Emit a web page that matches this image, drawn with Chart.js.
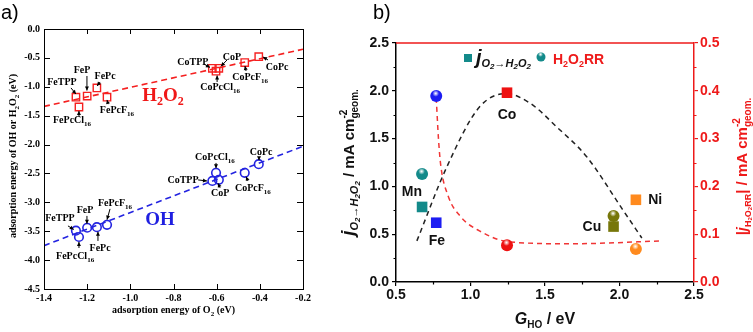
<!DOCTYPE html>
<html><head><meta charset="utf-8">
<script src="https://cdn.jsdelivr.net/npm/chart.js@4"></script>
<style>
html,body{margin:0;padding:0;background:#fff;width:753px;height:332px;overflow:hidden;}
#ca{position:absolute;left:0;top:0;}
#cb{position:absolute;left:330px;top:0;}
.lbl{position:absolute;font-family:"Liberation Sans",Arial,sans-serif;font-size:20px;color:#000;line-height:20px;}
</style></head><body>
<canvas id="ca" width="345" height="332"></canvas>
<canvas id="cb" width="423" height="332"></canvas>
<div class="lbl" style="left:1px;top:2px">a)</div>
<div class="lbl" style="left:373px;top:2px">b)</div>
<script>
// ---------- Panel a data ----------
const compounds = ['FeTPP','FePcCl16','FeP','FePc','FePcF16','CoTPP','CoP','CoPcCl16','CoPcF16','CoPc'];
const o2Energy  = [-1.252,-1.238,-1.200,-1.155,-1.108,-0.620,-0.590,-0.603,-0.470,-0.405];
const h2o2Energy= [-1.18,-1.35,-1.16,-1.02,-1.18,-0.68,-0.68,-0.73,-0.58,-0.48];
const ohEnergy  = [-3.49,-3.60,-3.44,-3.43,-3.39,-2.63,-2.61,-2.49,-2.49,-2.34];
const fitX      = [-1.4,-0.2];
const h2o2Fit   = [-1.34,-0.35];
const ohFit     = [-3.75,-2.03];
const aXTicks = {min:-1.4, max:-0.2, step:0.2};
const aYTicks = {min:-4.5, max:0, step:0.5};
// annotation: [name, subscript, labelX, labelY, arrowFromX, arrowFromY, arrowToX, arrowToY]
const h2o2Notes = [
 ['FeTPP','',-1.317,-0.917,-1.275,-1.02,-1.252,-1.125],
 ['FeP','',-1.224,-0.709,-1.201,-0.813,-1.201,-1.065],
 ['FePc','',-1.117,-0.813,-1.14,-0.917,-1.154,-0.986],
 ['FePcF','16',-1.062,-1.40,-1.103,-1.30,-1.108,-1.228],
 ['FePcCl','16',-1.27,-1.574,-1.238,-1.52,-1.238,-1.42],
 ['CoTPP','',-0.71,-0.554,-0.659,-0.606,-0.631,-0.665],
 ['CoP','',-0.529,-0.484,-0.552,-0.536,-0.58,-0.645],
 ['CoPcCl','16',-0.584,-1.003,-0.598,-0.917,-0.598,-0.805],
 ['CoPcF','16',-0.445,-0.83,-0.464,-0.727,-0.469,-0.64],
 ['CoPc','',-0.32,-0.657,-0.362,-0.536,-0.385,-0.484]
];
const ohNotes = [
 ['FeTPP','',-1.326,-3.27,-1.289,-3.408,-1.262,-3.47],
 ['FeP','',-1.21,-3.13,-1.201,-3.235,-1.201,-3.37],
 ['FePcF','16',-1.071,-3.01,-1.094,-3.114,-1.108,-3.30],
 ['FePc','',-1.14,-3.789,-1.15,-3.668,-1.15,-3.51],
 ['FePcCl','16',-1.256,-3.927,-1.238,-3.79,-1.238,-3.685],
 ['CoTPP','',-0.756,-2.612,-0.686,-2.612,-0.645,-2.63],
 ['CoP','',-0.584,-2.837,-0.584,-2.75,-0.594,-2.67],
 ['CoPcCl','16',-0.608,-2.215,-0.603,-2.318,-0.603,-2.41],
 ['CoPcF','16',-0.432,-2.75,-0.455,-2.63,-0.464,-2.555],
 ['CoPc','',-0.394,-2.128,-0.404,-2.215,-0.404,-2.27]
];
const bigLabels = [['H2O2',-0.849,-1.142,'#f01818'],['OH',-0.862,-3.287,'#1f1fe0']];

// ---------- Panel b data ----------
const metals   = ['Mn','Fe','Co','Cu','Ni'];
const gHO      = [0.675,0.77,1.245,1.96,2.11];
const jO2H2O2  = [0.785,0.62,1.98,0.58,0.86];
const jH2O2RR  = [0.226,0.389,0.077,0.138,0.069];
const metalColors = ['#138a8a','#1c1cf2','#ee1111','#77770a','#ff8a1e'];
const metalLabelX = [0.607,0.775,1.245,1.815,2.24];
const metalLabelY = [0.94,0.43,1.75,0.575,0.858];
const trendJX = [0.64,0.84,1.06,1.24,1.40,1.58,1.78,2.02,2.15];
const trendJY = [0.43,1.20,1.83,1.97,1.87,1.62,1.31,0.76,0.46];
const trendRRX = [0.77,0.785,0.80,0.85,0.93,1.06,1.26,1.67,2.29];
const trendRRY = [0.385,0.30,0.245,0.18,0.138,0.107,0.084,0.080,0.086];

const SERIF = '"Liberation Serif","Times New Roman",serif';
const SANS = '"Liberation Sans",Arial,sans-serif';

function richWidth(ctx, segs){let w=0;segs.forEach(s=>{ctx.font=s.f;if(!s.na)w+=ctx.measureText(s.t).width;});return w;}
function drawRich(ctx, segs, x, y){
  let cx=x-richWidth(ctx,segs)/2;
  segs.forEach(s=>{ctx.font=s.f;ctx.fillText(s.t,cx,y+(s.dy||0));if(!s.na)cx+=ctx.measureText(s.t).width;});
}
function arrow(ctx,x1,y1,x2,y2){
  ctx.beginPath();ctx.moveTo(x1,y1);ctx.lineTo(x2,y2);ctx.stroke();
  const a=Math.atan2(y2-y1,x2-x1),L=4,W=2;
  ctx.beginPath();ctx.moveTo(x2,y2);
  ctx.lineTo(x2-L*Math.cos(a)+W*Math.sin(a),y2-L*Math.sin(a)-W*Math.cos(a));
  ctx.lineTo(x2-L*Math.cos(a)-W*Math.sin(a),y2-L*Math.sin(a)+W*Math.cos(a));
  ctx.closePath();ctx.fill();
}

const plugA = {
  id:'plugA',
  afterDraw(chart){
    const {ctx, chartArea:a, scales:{x,y}} = chart;
    ctx.save();
    ctx.strokeStyle='#000';ctx.fillStyle='#000';ctx.lineWidth=1;
    ctx.strokeRect(a.left+0.5,a.top+0.5,a.right-a.left,a.bottom-a.top);
    ctx.beginPath();
    x.ticks.forEach(t=>{const p=Math.round(x.getPixelForValue(t.value))+0.5;ctx.moveTo(p,a.bottom);ctx.lineTo(p,a.bottom-5);ctx.moveTo(p,a.top);ctx.lineTo(p,a.top+5);});
    y.ticks.forEach(t=>{const p=Math.round(y.getPixelForValue(t.value))+0.5;ctx.moveTo(a.left,p);ctx.lineTo(a.left+6,p);ctx.moveTo(a.right,p);ctx.lineTo(a.right-6,p);});
    ctx.stroke();
    // annotations
    ctx.textBaseline='alphabetic';
    [...h2o2Notes,...ohNotes].forEach(n=>{
      const lx=x.getPixelForValue(n[2]),ly=y.getPixelForValue(n[3]);
      const segs=[{t:n[0],f:'bold 10px '+SERIF}];
      if(n[1])segs.push({t:n[1],f:'bold 7px '+SERIF,dy:3});
      drawRich(ctx,segs,lx,ly+3.5);
      arrow(ctx,x.getPixelForValue(n[4]),y.getPixelForValue(n[5]),x.getPixelForValue(n[6]),y.getPixelForValue(n[7]));
    });
    bigLabels.forEach(b=>{
      ctx.fillStyle=b[3];
      const px=x.getPixelForValue(b[1]),py=y.getPixelForValue(b[2]);
      let segs;
      if(b[0]==='H2O2')segs=[{t:'H',f:'bold 19px '+SERIF},{t:'2',f:'bold 12px '+SERIF,dy:4},{t:'O',f:'bold 19px '+SERIF},{t:'2',f:'bold 12px '+SERIF,dy:4}];
      else segs=[{t:b[0],f:'bold 19px '+SERIF}];
      drawRich(ctx,segs,px,py+6.5);
    });
    // axis titles
    ctx.fillStyle='#000';
    drawRich(ctx,[{t:'adsorption energy of O',f:'bold 10px '+SERIF},{t:'2',f:'bold 7px '+SERIF,dy:3},{t:' (eV)',f:'bold 10px '+SERIF}],(a.left+a.right)/2,313);
    ctx.translate(12,(a.top+a.bottom)/2-3);ctx.rotate(-Math.PI/2);
    drawRich(ctx,[{t:'adsorption energy of OH or H',f:'bold 10px '+SERIF},{t:'2',f:'bold 7px '+SERIF,dy:3},{t:'O',f:'bold 10px '+SERIF},{t:'2',f:'bold 7px '+SERIF,dy:3},{t:' (eV)',f:'bold 10px '+SERIF}],0,3.5);
    ctx.restore();
  }
};

const aRed='#f52020', aBlue='#2424e0';
new Chart(document.getElementById('ca'),{
  type:'scatter',
  data:{datasets:[
    {label:'H2O2',data:o2Energy.map((v,i)=>({x:v,y:h2o2Energy[i]})),pointStyle:'rect',pointRadius:5.2,pointBorderColor:aRed,pointBackgroundColor:'rgba(0,0,0,0)',pointBorderWidth:1.4,order:0},
    {label:'OH',data:o2Energy.map((v,i)=>({x:v,y:ohEnergy[i]})),pointStyle:'circle',pointRadius:4.3,pointBorderColor:aBlue,pointBackgroundColor:'rgba(0,0,0,0)',pointBorderWidth:1.6,order:0},
    {label:'H2O2 fit',data:fitX.map((v,i)=>({x:v,y:h2o2Fit[i]})),showLine:true,pointRadius:0,borderColor:aRed,borderDash:[6,4],borderWidth:1.6,order:1},
    {label:'OH fit',data:fitX.map((v,i)=>({x:v,y:ohFit[i]})),showLine:true,pointRadius:0,borderColor:aBlue,borderDash:[6,4],borderWidth:1.6,order:1}
  ]},
  options:{
    responsive:false,animation:false,
    layout:{padding:{top:29,right:42,left:0,bottom:0}},
    plugins:{legend:{display:false},tooltip:{enabled:false}},
    scales:{
      x:{type:'linear',min:aXTicks.min,max:aXTicks.max,
        ticks:{stepSize:aXTicks.step,callback:v=>v.toFixed(1),font:{family:SERIF,weight:'bold',size:10},color:'#000',padding:3,maxRotation:0,autoSkip:false},
        grid:{display:false,drawTicks:false},border:{display:false},afterFit(s){s.height=43;}},
      y:{type:'linear',min:aYTicks.min,max:aYTicks.max,
        ticks:{stepSize:aYTicks.step,callback:v=>v.toFixed(1),font:{family:SERIF,weight:'bold',size:10},color:'#000',padding:4,autoSkip:false},
        grid:{display:false,drawTicks:false},border:{display:false},afterFit(s){s.width=44;}}
    }
  },
  plugins:[plugA]
});

// ---------- Panel b ----------
const OX=330; // canvas offset
const bRed='#ee1a1a';
function sphere(ctx,x,y,r,col){
  ctx.beginPath();ctx.arc(x,y,r,0,Math.PI*2);ctx.fillStyle=col;ctx.fill();
  const g=ctx.createRadialGradient(x-0.5,y-2.6,0.3,x-0.5,y-2.6,r*0.55);
  g.addColorStop(0,'rgba(255,255,255,0.95)');g.addColorStop(1,'rgba(255,255,255,0)');
  ctx.beginPath();ctx.arc(x,y,r,0,Math.PI*2);ctx.fillStyle=g;ctx.fill();
}
function minor(ctx,scale,step,len,vertical,side){
  const n=Math.round((scale.max-scale.min)/step);
  ctx.beginPath();
  for(let i=1;i<n;i+=2){
    const v=scale.min+i*step,p=Math.round(scale.getPixelForValue(v))+0.5;
    if(vertical){ctx.moveTo(side,p);ctx.lineTo(side+len,p);}else{ctx.moveTo(p,side);ctx.lineTo(p,side+len);}
  }
  ctx.stroke();
}
const plugB={
  id:'plugB',
  afterDatasetsDraw(chart){
    const ctx=chart.ctx;ctx.save();
    const meta=chart.getDatasetMeta(1);
    meta.data.forEach((el,i)=>sphere(ctx,el.x,el.y,6,metalColors[i]));
    ctx.restore();
  },
  afterDraw(chart){
    const {ctx,chartArea:a,scales:{x,y,y1}}=chart;
    ctx.save();
    ctx.lineWidth=1.5;
    ctx.strokeStyle=bRed;ctx.beginPath();ctx.moveTo(a.left,a.top);ctx.lineTo(a.right,a.top);ctx.stroke();
    ctx.lineWidth=1.2;
    ctx.strokeStyle='#000';
    minor(ctx,y,0.25,-2.5,true,a.left);
    minor(ctx,x,0.25,2.5,false,a.bottom);
    ctx.strokeStyle=bRed;
    minor(ctx,y1,0.05,2.5,true,a.right);
    // metal labels
    ctx.fillStyle='#111';ctx.textAlign='center';ctx.textBaseline='middle';
    ctx.font='bold 14px '+SANS;
    metals.forEach((m,i)=>ctx.fillText(m,x.getPixelForValue(metalLabelX[i]),y.getPixelForValue(metalLabelY[i])));
    ctx.textAlign='left';ctx.textBaseline='alphabetic';
    // legend
    ctx.fillStyle=metalColors[0];
    ctx.fillRect(464-OX,54,8,8);
    ctx.fillStyle='#111';
    const BI='italic bold ';
    let segs=[{t:'j',f:BI+'20px '+SANS},{t:'O',f:BI+'11px '+SANS,dy:3},{t:'2',f:BI+'8px '+SANS,dy:5},{t:'\u2192',f:BI+'11px '+SANS,dy:3},{t:'H',f:BI+'11px '+SANS,dy:3},{t:'2',f:BI+'8px '+SANS,dy:5},{t:'O',f:BI+'11px '+SANS,dy:3},{t:'2',f:BI+'8px '+SANS,dy:5}];
    let w=richWidth(ctx,segs);drawRich(ctx,segs,476-OX+w/2,64);
    sphere(ctx,541-OX,57,4.5,metalColors[0]);
    ctx.fillStyle=bRed;
    segs=[{t:'H',f:'bold 14px '+SANS},{t:'2',f:'bold 9px '+SANS,dy:3},{t:'O',f:'bold 14px '+SANS},{t:'2',f:'bold 9px '+SANS,dy:3},{t:'RR',f:'bold 14px '+SANS}];
    w=richWidth(ctx,segs);drawRich(ctx,segs,553-OX+w/2,64);
    // x title
    ctx.fillStyle='#111';
    drawRich(ctx,[{t:'G',f:BI+'16px '+SANS},{t:'HO',f:'bold 10px '+SANS,dy:4},{t:' / eV',f:'bold 16px '+SANS}],(a.left+a.right)/2,324);
    // left title
    ctx.save();
    ctx.translate(349-OX,(a.top+a.bottom)/2);ctx.rotate(-Math.PI/2);
    drawRich(ctx,[{t:'j',f:BI+'19px '+SANS},{t:'O',f:BI+'11px '+SANS,dy:4},{t:'2',f:BI+'8px '+SANS,dy:6},{t:'\u2192',f:BI+'11px '+SANS,dy:4},{t:'H',f:BI+'11px '+SANS,dy:4},{t:'2',f:BI+'8px '+SANS,dy:6},{t:'O',f:BI+'11px '+SANS,dy:4},{t:'2',f:BI+'8px '+SANS,dy:6},
      {t:' / mA cm',f:'bold 15px '+SANS},{t:'-2',f:'bold 10px '+SANS,dy:-7,na:true},{t:'geom.',f:'bold 10px '+SANS,dy:4}],0,5);
    ctx.restore();
    // right title
    ctx.save();ctx.fillStyle=bRed;
    ctx.translate(742-OX,(a.top+a.bottom)/2+4);ctx.rotate(-Math.PI/2);
    drawRich(ctx,[{t:'|',f:'bold 15px '+SANS},{t:'j',f:BI+'15px '+SANS},{t:'H',f:'bold 9px '+SANS,dy:4},{t:'2',f:'bold 6px '+SANS,dy:5},{t:'O',f:'bold 9px '+SANS,dy:4},{t:'2',f:'bold 6px '+SANS,dy:5},{t:'RR',f:'bold 9px '+SANS,dy:4},
      {t:'| / mA cm',f:'bold 15px '+SANS},{t:'-2',f:'bold 10px '+SANS,dy:-7,na:true},{t:'geom.',f:'bold 10px '+SANS,dy:4}],0,5);
    ctx.restore();
    ctx.restore();
  }
};

new Chart(document.getElementById('cb'),{
  type:'scatter',
  data:{datasets:[
    {label:'j O2->H2O2',data:gHO.map((v,i)=>({x:v,y:jO2H2O2[i]})),yAxisID:'y',pointStyle:'rect',pointRadius:7.5,pointBackgroundColor:metalColors,pointBorderColor:metalColors,pointBorderWidth:0,order:0},
    {label:'H2O2RR',data:gHO.map((v,i)=>({x:v,y:jH2O2RR[i]})),yAxisID:'y1',pointStyle:'circle',pointRadius:0,order:0},
    {label:'j trend',data:trendJX.map((v,i)=>({x:v,y:trendJY[i]})),yAxisID:'y',showLine:true,pointRadius:0,borderColor:'#222',borderDash:[5,4],borderWidth:1.5,cubicInterpolationMode:'monotone',order:1},
    {label:'RR trend',data:trendRRX.map((v,i)=>({x:v,y:trendRRY[i]})),yAxisID:'y1',showLine:true,pointRadius:0,borderColor:'#f03535',borderDash:[5,4],borderWidth:1.5,cubicInterpolationMode:'monotone',order:1}
  ]},
  options:{
    responsive:false,animation:false,
    layout:{padding:{top:43,right:0,left:0,bottom:0}},
    plugins:{legend:{display:false},tooltip:{enabled:false}},
    scales:{
      x:{type:'linear',min:0.5,max:2.5,
        ticks:{stepSize:0.5,callback:v=>v.toFixed(1),font:{family:SANS,weight:'bold',size:14},color:'#111',padding:1,maxRotation:0,autoSkip:false},
        grid:{display:true,drawOnChartArea:false,drawTicks:true,tickLength:4,color:'#000',lineWidth:1.2},border:{display:true,color:'#000',width:1.5},afterFit(s){s.height=50;}},
      y:{type:'linear',position:'left',min:0,max:2.5,
        ticks:{stepSize:0.5,callback:v=>v.toFixed(1),font:{family:SANS,weight:'bold',size:14},color:'#111',padding:3,autoSkip:false},
        grid:{display:true,drawOnChartArea:false,drawTicks:true,tickLength:4,color:'#000',lineWidth:1.2},border:{display:true,color:'#000',width:1.5},afterFit(s){s.width=66;}},
      y1:{type:'linear',position:'right',min:0,max:0.5,
        ticks:{stepSize:0.1,callback:v=>v.toFixed(1),font:{family:SANS,weight:'bold',size:14},color:bRed,padding:2,autoSkip:false},
        grid:{display:true,drawOnChartArea:false,drawTicks:true,tickLength:4,color:bRed,lineWidth:1.2},border:{display:true,color:bRed,width:1.5},afterFit(s){s.width=59;}}
    }
  },
  plugins:[plugB]
});
</script>
</body></html>
